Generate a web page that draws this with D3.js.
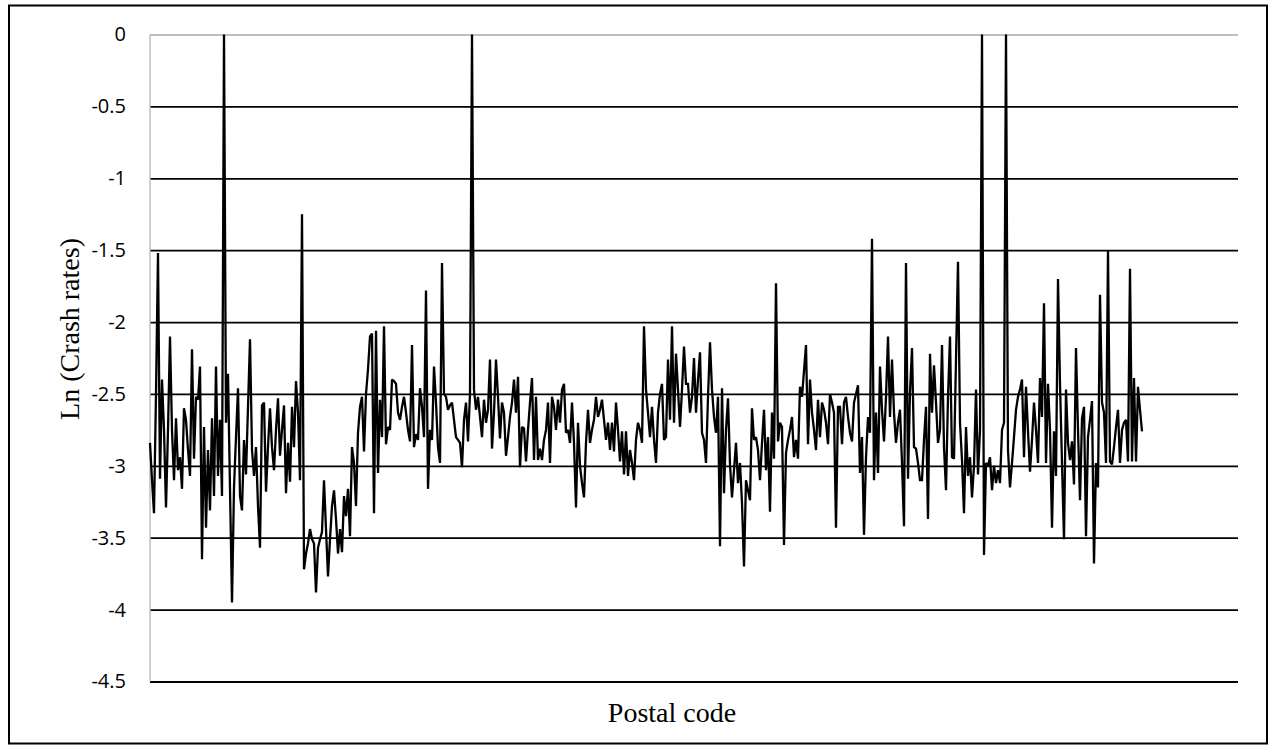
<!DOCTYPE html>
<html>
<head>
<meta charset="utf-8">
<script src="https://cdn.jsdelivr.net/npm/d3@7"></script>
<style>
  body { margin: 0; background: #fff; }
  .tick text { font-family: "Open Sans", sans-serif; font-size: 20px; fill: #000; }
  .aText { font-family: "Liberation Serif", "Times New Roman", serif; font-size: 28px; fill: #000; }
</style>
</head>
<body>
<div id="chart"></div>
<script>
// Ln of crash rate per postal code left to right
var crashRates1 = [-2.84,-3.10,-3.33,-2.50,-1.52,-3.09,-2.40,-2.75,-3.29,-2.75,
  -2.10,-2.75,-3.10,-2.67,-3.03,-2.94,-3.16,-2.60,-2.68,-2.89,
  -3.07,-2.19,-2.95,-2.52,-2.54,-2.31,-3.65,-2.73,-3.43,-2.89,
  -3.31,-2.67,-3.21,-2.31,-3.07,-2.68,-3.21,0,-2.70,-2.36,
  -3.16,-3.95,-3.15,-2.80,-2.46];
var crashRates2 = [-3.21,-3.31,-2.82,-3.06,-2.59,-2.12,-2.89,-3.07,-2.87,-3.28,
  -3.57,-2.58,-2.56,-3.18,-2.87,-2.60,-2.87,-3.03,-2.75,-2.53,
  -2.93,-2.75,-2.58,-3.19,-2.84,-3.11,-2.59,-2.87,-2.41,-2.63,
  -3.10,-1.25,-3.72,-3.61,-3.54,-3.44,-3.51,-3.54,-3.88,-3.57,
  -3.51,-3.46,-3.10,-3.44,-3.77,-3.51,-3.28,-3.17,-3.37,-3.61];
var crashRates3 = [-3.44,-3.60,-3.21,-3.35,-3.16,-3.49,-2.87,-2.98,-3.28,-2.77,
  -2.59,-2.52,-2.90,-2.50,-2.33,-2.10,-2.08,-3.33,-2.06,-3.05,
  -2.54,-2.80,-2.03,-2.85,-2.73,-2.75,-2.40,-2.41,-2.43,-2.63,
  -2.68,-2.59,-2.52,-2.63,-2.75,-2.83,-2.16,-2.87,-2.78,-2.82,
  -2.46,-2.59,-2.80,-1.78,-3.16,-2.75,-2.82,-2.31,-2.56,-2.87];
var crashRates4 = [-2.98,-1.59,-2.50,-2.52,-2.61,-2.58,-2.56,-2.68,-2.80,-2.82,
  -2.84,-3.01,-2.68,-2.56,-2.83,-2.50,0,-2.47,-2.61,-2.52,
  -2.66,-2.80,-2.54,-2.70,-2.61,-2.26,-2.88,-2.63,-2.26,-2.52,
  -2.81,-2.56,-2.63,-2.93,-2.80,-2.66,-2.56,-2.40,-2.63,-2.38,
  -3.01,-2.73,-2.74,-2.97,-2.75,-2.56,-2.39,-2.96,-2.52,-2.96];
var crashRates5 = [-2.88,-2.96,-2.82,-2.75,-2.56,-2.98,-2.52,-2.59,-2.75,-2.54,
  -2.70,-2.47,-2.43,-2.77,-2.75,-2.84,-2.56,-2.84,-3.29,-2.70,
  -3.00,-3.12,-3.22,-2.84,-2.61,-2.84,-2.75,-2.68,-2.52,-2.66,
  -2.61,-2.54,-2.68,-2.82,-2.70,-2.89,-2.70,-2.90,-2.56,-2.75,
  -2.97,-2.76,-3.06,-2.76,-3.07,-2.89,-2.98,-3.10,-2.82,-2.70];
var crashRates6 = [-2.75,-2.84,-2.03,-2.47,-2.63,-2.80,-2.59,-2.82,-2.98,-2.63,
  -2.50,-2.43,-2.82,-2.80,-2.26,-2.68,-2.03,-2.70,-2.22,-2.47,
  -2.73,-2.47,-2.17,-2.43,-2.43,-2.63,-2.52,-2.25,-2.63,-2.40,
  -2.21,-2.77,-2.82,-2.98,-2.52,-2.14,-2.47,-2.66,-2.77,-2.52,
  -3.56,-2.46,-3.19,-2.75,-2.53,-2.99,-3.22,-3.03,-2.84,-3.12];
var crashRates7 = [-2.98,-3.26,-3.70,-3.10,-3.17,-3.24,-2.60,-2.82,-2.80,-2.89,
  -3.10,-2.84,-2.61,-3.03,-2.80,-3.32,-2.63,-2.95,-1.73,-2.83,
  -2.70,-2.73,-3.55,-2.91,-2.82,-2.75,-2.66,-2.94,-2.82,-2.95,
  -2.45,-2.52,-2.34,-2.16,-2.85,-2.40,-2.63,-2.75,-2.89,-2.54,
  -2.80,-2.56,-2.61,-2.70,-2.85,-2.50,-2.56,-2.63,-3.43,-2.59];
var crashRates8 = [-2.59,-2.85,-2.56,-2.52,-2.66,-2.77,-2.83,-2.56,-2.50,-2.44,
  -3.05,-2.80,-3.48,-2.94,-2.66,-2.77,-1.42,-3.10,-2.63,-3.05,
  -2.31,-2.61,-2.83,-2.52,-2.10,-2.66,-2.26,-2.63,-2.84,-2.70,
  -2.61,-2.98,-3.42,-1.59,-3.09,-2.49,-2.18,-2.87,-2.88,-2.98,
  -3.10,-3.10,-2.82,-2.59,-3.37,-2.22,-2.63,-2.30,-2.56,-2.84];
var crashRates9 = [-2.75,-2.16,-2.87,-3.17,-2.52,-2.10,-2.94,-2.95,-2.26,-1.58,
  -2.70,-2.96,-3.33,-2.73,-3.07,-2.94,-3.22,-3.00,-2.47,-3.06,
  -2.75,0,-3.62,-2.98,-3.00,-2.94,-3.17,-3.00,-3.12,-3.03,
  -3.12,-2.75,-2.70,0,-2.89,-3.15,-2.98,-2.80,-2.61,-2.52,
  -2.47,-2.40,-2.94,-2.45,-2.76,-3.04,-2.82,-2.56,-2.75,-2.98];
var crashRates10 = [-2.39,-2.66,-1.87,-2.98,-2.43,-2.75,-3.43,-2.76,-3.07,-1.70,
  -2.43,-2.98,-3.51,-2.47,-2.84,-2.96,-2.83,-3.13,-2.18,-2.75,
  -3.24,-2.67,-2.59,-3.49,-2.80,-2.68,-2.55,-3.68,-2.98,-3.15,
  -1.81,-2.56,-2.63,-2.98,-1.50,-2.97,-2.99,-2.87,-2.73,-2.61,
  -2.98,-2.75,-2.70,-2.68,-2.97,-1.63,-2.97,-2.39,-2.97,-2.45,
  -2.61,-2.76];

var yTicks = [0, -0.5, -1, -1.5, -2, -2.5, -3, -3.5, -4, -4.5];
var xTitle = "Postal code";
var yTitle = "Ln (Crash rates)";

var lnRates = [].concat(crashRates1, crashRates2, crashRates3, crashRates4, crashRates5,
  crashRates6, crashRates7, crashRates8, crashRates9, crashRates10);
var postalCodes = d3.range(lnRates.length);

var svgWidth = 1276;
var svgHeight = 747;

var margin = { top: 34.5, right: 38, bottom: 65.5, left: 150 };
var width = svgWidth - margin.left - margin.right;
var height = svgHeight - margin.top - margin.bottom;
var lineEnd = 992; // last postal code sits short of the plot's right edge

var svg = d3.select("#chart")
  .append("svg")
  .attr("width", svgWidth)
  .attr("height", svgHeight);

svg.append("rect")
  .attr("x", 9).attr("y", 5.5)
  .attr("width", 1258).attr("height", 738)
  .attr("fill", "#fff")
  .attr("stroke", "#000")
  .attr("stroke-width", 2);

var chartGroup = svg.append("g")
  .attr("transform", `translate(${margin.left}, ${margin.top})`);

var xScale = d3.scaleLinear()
  .domain([0, postalCodes.length - 1])
  .range([0, lineEnd]);

var yScale = d3.scaleLinear()
  .domain([-4.5, 0])
  .range([height, 0]);

// gridlines + labels
var leftAxis = d3.axisLeft(yScale)
  .tickValues(yTicks)
  .tickSize(-width)
  .tickPadding(24)
  .tickFormat(d => String(d));

var yAxisG = chartGroup.append("g").call(leftAxis);
yAxisG.select(".domain").remove();
yAxisG.selectAll(".tick line")
  .attr("stroke", d => d === 0 ? "#bfbfbf" : "#000")
  .attr("stroke-width", 1.8);

// vertical axis line
chartGroup.append("line")
  .attr("x1", 0).attr("x2", 0)
  .attr("y1", 0).attr("y2", height)
  .attr("stroke", "#bfbfbf")
  .attr("stroke-width", 1.5);

var line = d3.line()
  .x((d, i) => xScale(postalCodes[i]))
  .y(d => yScale(d));

chartGroup.append("path")
  .datum(lnRates)
  .attr("fill", "none")
  .attr("stroke", "#000")
  .attr("stroke-width", 2.3)
  .attr("stroke-linejoin", "miter")
  .attr("stroke-miterlimit", 2)
  .attr("d", line);

// axis titles
svg.append("text")
  .attr("class", "aText")
  .attr("text-anchor", "middle")
  .attr("x", 672)
  .attr("y", 722)
  .text(xTitle);

svg.append("text")
  .attr("class", "aText")
  .attr("text-anchor", "middle")
  .attr("transform", "translate(79, 329) rotate(-90)")
  .text(yTitle);
</script>
</body>
</html>
